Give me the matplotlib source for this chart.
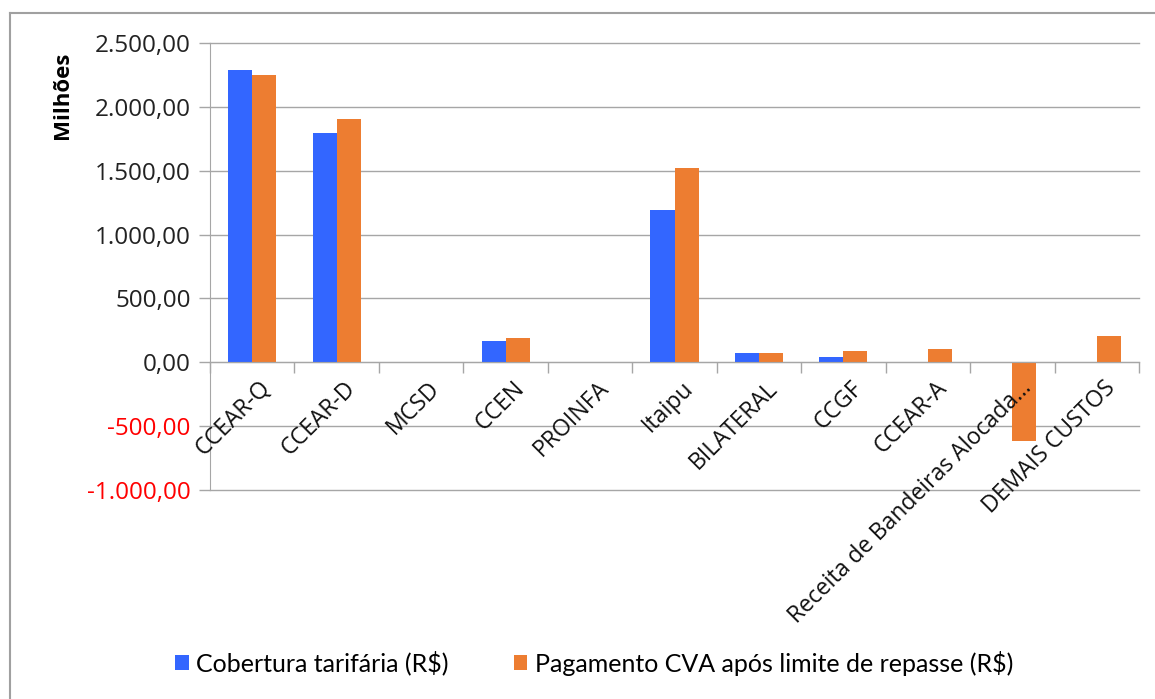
import matplotlib.pyplot as plt
from matplotlib.lines import Line2D
import numpy as np

plt.rcParams['font.family'] = ['Open Sans', 'DejaVu Sans']

# Data (millions of R$)
categories = ['CCEAR-Q', 'CCEAR-D', 'MCSD', 'CCEN', 'PROINFA', 'Itaipu',
              'BILATERAL', 'CCGF', 'CCEAR-A', 'Receita de Bandeiras Alocada...',
              'DEMAIS CUSTOS']
cobertura = [2288, 1795, 0, 165, 0, 1191, 73, 45, 0, 0, 0]
pagamento_cva = [2249, 1904, 0, 188, 0, 1520, 73, 92, 102, -619, 204]
series_names = ['Cobertura tarifária (R$)',
                'Pagamento CVA após limite de repasse (R$)']
y_ticks = [-1000, -500, 0, 500, 1000, 1500, 2000, 2500]

blue = '#3366FF'
orange = '#ED7D31'
grid_gray = '#A6A6A6'

W, H = 1155, 699
fig = plt.figure(figsize=(W / 100, H / 100), dpi=100)
ax = fig.add_axes([210 / W, 1 - 490 / H, (1139 - 210) / W, (490 - 43) / H])

x = np.arange(len(categories))
bw = 0.285
ax.bar(x - bw / 2, cobertura, bw, color=blue, label=series_names[0], zorder=3)
ax.bar(x + bw / 2, pagamento_cva, bw, color=orange, label=series_names[1], zorder=3)

ax.set_xlim(-0.5, len(categories) - 0.5)
ax.set_ylim(-1000, 2500)

# y axis, Brazilian number format
ax.set_yticks(y_ticks)
ax.set_yticklabels([f'{v:,.2f}'.replace(',', 'X').replace('.', ',').replace('X', '.')
                    for v in y_ticks], fontsize=17.5, color='#222222')
for lbl, v in zip(ax.get_yticklabels(), y_ticks):
    if v < 0:
        lbl.set_color('#FF0000')
ax.tick_params(axis='y', length=8, width=1, color=grid_gray, pad=6)
ax.grid(axis='y', color=grid_gray, linewidth=1, zorder=0)
for gl in ax.get_ygridlines():
    gl.set_clip_on(False)

# x axis at zero with ticks between categories
for s in ['top', 'right']:
    ax.spines[s].set_visible(False)
ax.spines['left'].set_color(grid_gray)
ax.spines['bottom'].set_position(('data', 0))
ax.spines['bottom'].set_color(grid_gray)
ax.spines['bottom'].set_zorder(4)
ax.set_xticks(np.arange(-0.5, len(categories), 1.0))
ax.set_xticklabels([])
ax.tick_params(axis='x', length=8, width=1, color=grid_gray, direction='out')

for i, c in enumerate(categories):
    ax.annotate(c, xy=(i, 0), xycoords='data', xytext=(5, -10),
                textcoords='offset points', rotation=45, rotation_mode='anchor',
                ha='right', va='top', fontsize=16.6, color='#111111')

fig.text(62 / W, 1 - 95 / H, 'Milhões', rotation=90, fontsize=16,
         fontweight='bold', ha='center', va='center')

fig.legend(loc='center', bbox_to_anchor=(594 / W, 1 - 663 / H), ncol=2,
           frameon=False, prop={'family': 'Lato', 'size': 18},
           handlelength=0.55, handleheight=0.55,
           handletextpad=0.3, columnspacing=2.6)

# outer frame (top and left visible)
fig.add_artist(Line2D([10 / W, 10 / W], [0, 1 - 13 / H], color='#A0A0A0', linewidth=1.5))
fig.add_artist(Line2D([10 / W, 1], [1 - 13 / H, 1 - 13 / H], color='#A0A0A0', linewidth=1.5))

fig.savefig('out.png', dpi=100)
